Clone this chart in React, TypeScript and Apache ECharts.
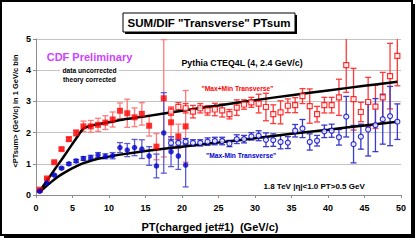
import React, { useEffect, useRef } from 'react';
import * as echarts from 'echarts';

// Min-bias (filled markers), 1 GeV/c bins
const ptMB = [0.5, 1.5, 2.5, 3.5, 4.5, 5.5, 6.5, 7.5, 8.5, 9.5, 10.5, 11.5, 12.5, 13.5, 14.5, 15.5, 16.5, 17.5, 18.5, 19.5, 20.5];
const redMB = [0.17, 0.53, 1.05, 1.47, 1.79, 1.99, 2.2, 2.2, 2.25, 2.32, 2.42, 2.7, 2.62, 2.49, 2.6, 2.22, 1.55, 3.1, 2.33, 1.88, 2.2];
const redMBErr = [0.02, 0.03, 0.03, 0.04, 0.06, 0.1, 0.17, 0.19, 0.21, 0.22, 0.24, 0.25, 0.45, 0.3, 0.36, 0.33, 0.42, 1.88, 0.5, 0.39, 1.15];
const blueMB = [0.12, 0.38, 0.64, 0.86, 1.0, 1.09, 1.17, 1.2, 1.28, 1.24, 1.26, 1.52, 1.44, 1.52, 1.47, 1.25, 0.93, 1.99, 1.39, 1.25, 0.96];
const blueMBErr = [0.02, 0.02, 0.03, 0.03, 0.04, 0.05, 0.06, 0.07, 0.08, 0.08, 0.1, 0.16, 0.21, 0.26, 0.3, 0.3, 0.38, 1.29, 0.48, 0.43, 0.7];

// JET20 (open markers)
const ptJ = [18.5, 19.5, 20.5, 21.5, 22.5, 23.5, 24.5, 25.5, 26.5, 27.5, 28.5, 29.5, 30.5, 31.5, 32.5, 33.5, 34.5, 35.5, 36.5, 37.5, 38.5, 39.5, 40.5, 41.5, 42.5, 43.5, 44.5, 45.5, 46.5, 47.5, 48.5, 49.5];
const redJ = [2.67, 2.82, 2.78, 2.67, 2.78, 2.71, 2.74, 2.71, 2.59, 2.8, 2.9, 2.97, 2.93, 2.82, 2.59, 2.65, 2.86, 2.88, 3.17, 2.85, 2.59, 2.88, 2.88, 3.13, 4.16, 3.07, 2.66, 2.98, 2.83, 3.13, 3.81, 4.46];
const redJErr = [0.12, 0.14, 0.15, 0.2, 0.15, 0.15, 0.2, 0.21, 0.15, 0.25, 0.15, 0.16, 0.3, 0.44, 0.3, 0.37, 0.22, 0.24, 0.24, 0.55, 0.25, 0.25, 0.25, 0.58, 0.87, 0.99, 0.31, 0.79, 0.69, 0.8, 1.05, 0.96];
const blueJ = [1.67, 1.67, 1.71, 1.67, 1.67, 1.71, 1.73, 1.73, 1.65, 1.79, 1.79, 1.88, 1.9, 1.77, 1.76, 1.7, 1.68, 2.06, 2.13, 1.7, 1.74, 2.04, 2.06, 1.85, 2.51, 1.63, 1.87, 2.1, 2.24, 2.43, 2.53, 2.35];
const blueJErr = [0.1, 0.1, 0.1, 0.1, 0.1, 0.12, 0.12, 0.12, 0.1, 0.14, 0.12, 0.12, 0.16, 0.22, 0.2, 0.22, 0.19, 0.2, 0.29, 0.26, 0.17, 0.2, 0.21, 0.25, 0.65, 0.6, 0.4, 0.85, 0.85, 0.8, 0.95, 0.57];

// Pythia CTEQ4L theory curves
const thPT = [0.5, 1.5, 2.5, 3.5, 4.5, 5.5, 6.5, 7.5, 8.5, 10, 12, 15, 20, 25, 30, 35, 40, 45, 49.5];
const thRed = [0.12, 0.46, 0.8, 1.13, 1.47, 1.81, 2.13, 2.22, 2.27, 2.33, 2.42, 2.52, 2.7, 2.87, 3.04, 3.2, 3.35, 3.5, 3.63];
const thBlue = [0.1, 0.3, 0.5, 0.66, 0.8, 0.92, 1.02, 1.1, 1.16, 1.23, 1.31, 1.41, 1.55, 1.68, 1.82, 1.96, 2.09, 2.23, 2.35];

const F = 'Liberation Sans, Arial, Helvetica, sans-serif';

function errSeries(pts: number[], vals: number[], errs: number[], color: string) {
  return {
    type: 'custom',
    clip: true,
    z: 2,
    silent: true,
    data: pts.map((p, i) => [p, vals[i], errs[i]]),
    encode: { x: 0, y: 1 },
    renderItem: (_params: any, api: any) => {
      const x = api.value(0);
      const y = api.value(1);
      const e = api.value(2);
      const top = api.coord([x, y + e]);
      const bot = api.coord([x, y - e]);
      const hw = 3;
      const st = { stroke: color, lineWidth: 1.3 };
      return {
        type: 'group',
        children: [
          { type: 'line', shape: { x1: top[0], y1: top[1], x2: bot[0], y2: bot[1] }, style: st },
          { type: 'line', shape: { x1: top[0] - hw, y1: top[1], x2: top[0] + hw, y2: top[1] }, style: st },
          { type: 'line', shape: { x1: bot[0] - hw, y1: bot[1], x2: bot[0] + hw, y2: bot[1] }, style: st },
        ],
      };
    },
  };
}

function zip(a: number[], b: number[]) {
  return a.map((v, i) => [v, b[i]]);
}

export default function App() {
  const ref = useRef<HTMLDivElement>(null);
  useEffect(() => {
    document.body.style.margin = '0';
    const chart = echarts.init(ref.current!, null, { renderer: 'svg' });
    const T = (x: number, y: number, text: string, fill: string, font: string, align = 'center', extra: any = {}) => ({
      type: 'text', x, y, z: 20, ...extra,
      style: { text, fill, font, align, verticalAlign: 'middle' },
    });
    const option: any = {
      animation: false,
      backgroundColor: '#ffffff',
      grid: { left: 36, right: 16, top: 39, bottom: 46 },
      xAxis: {
        type: 'value',
        min: 0,
        max: 50,
        interval: 5,
        axisLine: { show: true, lineStyle: { color: '#8c8c8c', width: 1 } },
        axisTick: { show: true, length: 3, lineStyle: { color: '#8c8c8c' } },
        splitLine: { show: false },
        axisLabel: { color: '#000', fontFamily: F, fontWeight: 'bold', fontSize: 9, margin: 8 },
      },
      yAxis: {
        type: 'value',
        min: 0,
        max: 5,
        interval: 1,
        axisLine: { show: true, lineStyle: { color: '#8c8c8c', width: 1 } },
        axisTick: { show: true, length: 3, lineStyle: { color: '#8c8c8c' } },
        splitLine: { show: true, lineStyle: { color: '#c4c4c4', width: 1 } },
        axisLabel: { color: '#000', fontFamily: F, fontWeight: 'bold', fontSize: 9, margin: 5 },
      },
      series: [
        errSeries(ptMB, redMB, redMBErr, '#ff7a7a'),
        errSeries(ptJ, redJ, redJErr, '#ff3a3a'),
        errSeries(ptMB, blueMB, blueMBErr, '#5a5ad8'),
        errSeries(ptJ, blueJ, blueJErr, '#3a3acc'),
        {
          type: 'line',
          data: zip(thPT, thRed),
          smooth: 0.25,
          showSymbol: false,
          symbol: 'none',
          z: 3,
          lineStyle: { color: '#000', width: 2.5 },
        },
        {
          type: 'line',
          data: zip(thPT, thBlue),
          smooth: 0.25,
          showSymbol: false,
          symbol: 'none',
          z: 3,
          lineStyle: { color: '#000', width: 2.5 },
        },
        {
          type: 'scatter',
          data: zip(ptMB, redMB),
          symbol: 'rect',
          symbolSize: 6,
          z: 4,
          itemStyle: { color: '#ff0000' },
        },
        {
          type: 'scatter',
          data: zip(ptJ, redJ),
          symbol: 'rect',
          symbolSize: 5,
          z: 4,
          itemStyle: { color: '#ffffff', borderColor: '#ff0000', borderWidth: 1.2 },
        },
        {
          type: 'scatter',
          data: zip(ptMB, blueMB),
          symbol: 'circle',
          symbolSize: 5.5,
          z: 4,
          itemStyle: { color: '#0000cc' },
        },
        {
          type: 'scatter',
          data: zip(ptJ, blueJ),
          symbol: 'circle',
          symbolSize: 5,
          z: 4,
          itemStyle: { color: '#ffffff', borderColor: '#0000cc', borderWidth: 1.2 },
        },
      ],
      graphic: [
        // outer frame with shadow
        { type: 'rect', z: 20, shape: { x: 412, y: 4, width: 3, height: 234 }, style: { fill: '#000' } },
        { type: 'rect', z: 20, shape: { x: 4, y: 235, width: 411, height: 3 }, style: { fill: '#000' } },
        { type: 'rect', z: 20, shape: { x: 1, y: 1, width: 411, height: 234 }, style: { fill: 'none', stroke: '#000', lineWidth: 2 } },
        // title box with shadow
        { type: 'rect', z: 20, shape: { x: 125, y: 15, width: 172, height: 19 }, style: { fill: '#000' } },
        { type: 'rect', z: 20, shape: { x: 123, y: 13, width: 172, height: 19 }, style: { fill: '#fff', stroke: '#000', lineWidth: 1 } },
        T(209, 23, 'SUM/DIF "Transverse" PTsum', '#000', `bold 11.5px ${F}`),
        T(15, 111, '<PTsum> (GeV/c) in 1 GeV/c bin', '#000', `bold 7.5px ${F}`, 'center', { rotation: Math.PI / 2 }),
        T(210, 227, 'PT(charged jet#1)  (GeV/c)', '#000', `bold 11px ${F}`),
        // white text box of the preliminary note
        { type: 'rect', z: 19, shape: { x: 60, y: 65, width: 59, height: 19 }, style: { fill: '#ffffff' } },
        T(89.5, 57, 'CDF Preliminary', '#cc44ff', `bold 11px ${F}`),
        T(89.5, 70.5, 'data uncorrected', '#000', `bold 6.7px ${F}`),
        T(89.5, 79.5, 'theory corrected', '#000', `bold 6.7px ${F}`),
        T(181.5, 62.5, 'Pythia CTEQ4L (4, 2.4 GeV/c)', '#000', `bold 8.8px ${F}`, 'left'),
        T(201.5, 88, '"Max+Min Transverse"', '#ff0000', `bold 6.7px ${F}`, 'left'),
        T(206, 155, '"Max-Min Transverse"', '#0000cc', `bold 6.7px ${F}`, 'left'),
        T(263.5, 186, '1.8 TeV |η|<1.0 PT>0.5 GeV', '#000', `bold 8px ${F}`, 'left'),
      ],
    };
    chart.setOption(option);
    return () => chart.dispose();
  }, []);
  return <div ref={ref} style={{ width: 417, height: 241 }} />;
}
